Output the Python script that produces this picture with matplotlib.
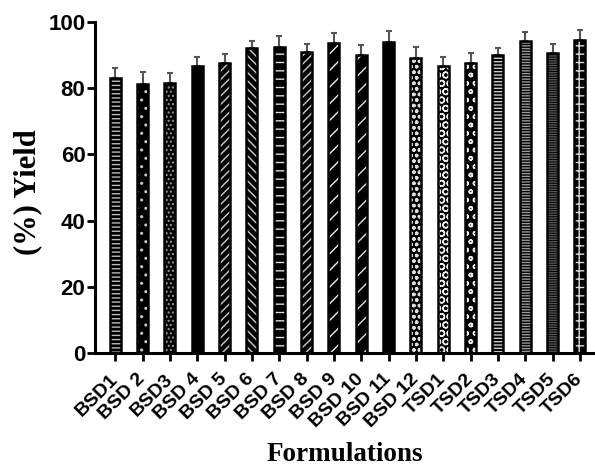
import numpy as np
import matplotlib
matplotlib.use('Agg')
import matplotlib.pyplot as plt

formulations = ['BSD1', 'BSD 2', 'BSD3', 'BSD 4', 'BSD 5', 'BSD 6', 'BSD 7', 'BSD 8',
                'BSD 9', 'BSD 10', 'BSD 11', 'BSD 12', 'TSD1', 'TSD2', 'TSD3', 'TSD4',
                'TSD5', 'TSD6']
yield_mean = [83.1, 81.3, 81.7, 86.8, 87.6, 92.3, 92.6, 90.9, 93.8,
              90.1, 93.9, 89.2, 86.8, 87.6, 90.1, 94.4, 90.8, 94.6]
yield_sd = [3.0, 3.6, 2.9, 2.7, 2.8, 2.1, 3.2, 2.5, 3.0,
            3.0, 3.4, 3.4, 2.6, 3.0, 2.2, 2.5, 2.5, 3.0]

# fill patterns (light marks on black), one per bar
patterns = ['----', '..', '....', None, '////', '\\\\\\\\', '--', '////', '//',
            '//', None, 'ooo', 'OO', 'oo', '-----', '------', '-------', '++']
pattern_colors = ['#bbbbbb', '#cccccc', '#999999', 'black', '#cccccc', '#cccccc', '#dddddd',
                  '#cccccc', '#eeeeee', '#dddddd', 'black', '#dddddd', '#eeeeee', '#eeeeee',
                  '#cccccc', '#999999', '#555555', '#dddddd']


def main():
	plt.rcParams['hatch.linewidth'] = 1.0
	fig = plt.figure(figsize=(5.95, 4.7), dpi=100)
	ax = fig.add_axes([0.16, 0.249, 0.84, 0.704])

	x = np.arange(len(formulations))
	width = 0.4
	for i in range(len(x)):
		ax.bar(x[i], yield_mean[i], width, color='black', edgecolor=pattern_colors[i],
		       hatch=patterns[i], linewidth=0, zorder=2)
	# black outline over the hatched fill
	ax.bar(x, yield_mean, width, fill=False, edgecolor='black', linewidth=1.8, zorder=3)
	ax.errorbar(x, yield_mean, yerr=[np.zeros(len(x)), yield_sd], fmt='none',
	            ecolor='#555555', elinewidth=1.5, capsize=2.5, capthick=1.5, zorder=1)

	ax.set_ylim(0, 100)
	ax.set_xlim(-0.73, 17.55)
	ax.set_yticks([0, 20, 40, 60, 80, 100])
	ax.set_xticks(x)
	ax.set_xticklabels(formulations, rotation=45, ha='right', va='center',
	                   rotation_mode='anchor', fontsize=14, fontweight='bold',
	                   family='Liberation Sans')
	for lab in ax.get_yticklabels():
		lab.set_fontsize(16)
		lab.set_fontweight('bold')
		lab.set_family('Liberation Sans')

	for s in ['top', 'right']:
		ax.spines[s].set_visible(False)
	for s in ['left', 'bottom']:
		ax.spines[s].set_linewidth(2.2)
	ax.tick_params(axis='both', width=2, length=6)
	ax.tick_params(axis='y', pad=1)
	ax.tick_params(axis='x', pad=11)

	fig.text(0.047, 0.591, '(%) Yield', ha='center', va='center', rotation=90, fontsize=22,
	         fontweight='bold', family='Liberation Serif')
	fig.text(0.58, 0.032, 'Formulations', ha='center', va='center', fontsize=19.5,
	         fontweight='bold', family='Liberation Serif')

	fig.savefig('out.png', dpi=100)


if __name__ == '__main__':
	main()
